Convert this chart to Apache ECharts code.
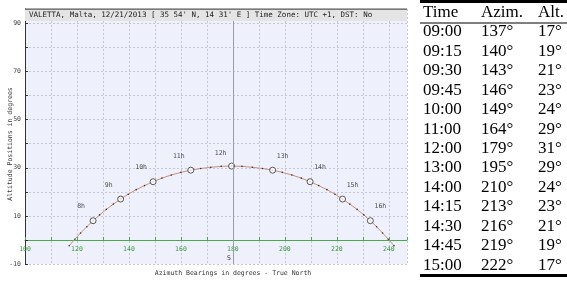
<!DOCTYPE html>
<html>
<head>
<meta charset="utf-8">
<script src="https://cdn.jsdelivr.net/npm/echarts@6/dist/echarts.min.js"></script>
<style>
html,body{margin:0;padding:0;background:#fff;}
#c{width:567px;height:284px;}
</style>
</head>
<body>
<div id="c"></div>
<script>
// Sun path (quarter-hour samples), Valletta 21 Dec 2013
const times = ['07:00','07:15','07:30','07:45','08:00','08:15','08:30','08:45','09:00','09:15','09:30','09:45','10:00','10:15','10:30','10:45','11:00','11:15','11:30','11:45','12:00','12:15','12:30','12:45','13:00','13:15','13:30','13:45','14:00','14:15','14:30','14:45','15:00','15:15','15:30','15:45','16:00','16:15','16:30','16:45','17:00'];
const azimuth = [117.0,119.2,121.4,123.8,126.2,128.7,131.3,134.0,136.8,139.7,142.8,146.0,149.3,152.7,156.3,160.0,163.8,167.6,171.5,175.5,179.5,183.5,187.5,191.4,195.3,199.0,202.7,206.3,209.7,213.0,216.2,219.3,222.2,225.0,227.8,230.4,232.9,235.3,237.6,239.8,242.0];
const altitude = [-2.4,0.3,2.9,5.5,8.0,10.4,12.7,14.9,17.0,19.0,20.9,22.6,24.2,25.7,27.0,28.1,29.0,29.7,30.2,30.6,30.7,30.6,30.2,29.7,29.0,28.1,27.0,25.7,24.2,22.6,20.9,19.0,17.0,14.9,12.7,10.4,8.0,5.5,2.9,0.3,-2.4];
const hourMarks = ['08:00','09:00','10:00','11:00','12:00','13:00','14:00','15:00','16:00'];

const xTicks = [100,120,140,160,180,200,220,240];
const yTicks = [-10,10,30,50,70,90];

// Table
const tableHeader = ['Time','Azim.','Alt.'];
const tableTimes = ['09:00','09:15','09:30','09:45','10:00','11:00','12:00','13:00','14:00','14:15','14:30','14:45','15:00'];
const tableAzim = [137,140,143,146,149,164,179,195,210,213,216,219,222];
const tableAlt = [17,19,21,23,24,29,31,29,24,23,21,19,17];

const titleText = "VALETTA, Malta, 12/21/2013 [ 35 54' N, 14 31' E ] Time Zone: UTC +1, DST: No";

const chart = echarts.init(document.getElementById('c'), null, {renderer:'canvas'});

const mono = 'DejaVu Sans Mono';
const pathData = azimuth.map((a,i)=>[a, altitude[i]]);
const hourData = hourMarks.map(t=>{
  const i = times.indexOf(t);
  const h = parseInt(t,10);
  const off = h < 12 ? [-12,-14] : (h === 12 ? [-11,-13] : [10,-14]);
  return {value:[azimuth[i], altitude[i]], label:{formatter: h + 'h', offset: off}};
});

const colX = [423, 481, 538];
const rowY0 = 32, rowStep = 19.42;
const graphics = [];
// title bar
graphics.push({type:'rect', shape:{x:25,y:9,width:382,height:12}, style:{fill:'#e4e4e4'}, z:10});
graphics.push({type:'rect', shape:{x:25,y:8.5,width:382,height:1.2}, style:{fill:'#555'}, z:11});
graphics.push({type:'text', x:29, y:15.5, style:{text:titleText, fontFamily:mono, fontSize:7.5, fill:'#222', verticalAlign:'middle'}, z:12});
// axis names
graphics.push({type:'text', x:10, y:144, rotation:Math.PI/2, style:{text:'Altitude Positions in degrees', fontFamily:mono, fontSize:6.5, fill:'#333', align:'center', verticalAlign:'middle'}, z:12});
graphics.push({type:'text', x:233, y:273, style:{text:'Azimuth Bearings in degrees - True North', fontFamily:mono, fontSize:6.5, fill:'#333', align:'center', verticalAlign:'middle'}, z:12});
graphics.push({type:'text', x:229, y:258, style:{text:'S', fontFamily:mono, fontSize:6.5, fill:'#333', align:'center', verticalAlign:'middle'}, z:12});
// table rules
graphics.push({type:'rect', shape:{x:420,y:0,width:147,height:3}, style:{fill:'#000'}});
graphics.push({type:'rect', shape:{x:420,y:22.5,width:147,height:1}, style:{fill:'#000'}});
graphics.push({type:'rect', shape:{x:420,y:274,width:147,height:3}, style:{fill:'#000'}});
tableHeader.forEach((h,j)=>{
  graphics.push({type:'text', x:colX[j], y:13, style:{text:h, fontFamily:'Liberation Serif', fontSize:17, fill:'#000', verticalAlign:'middle'}});
});
tableTimes.forEach((t,i)=>{
  const y = rowY0 + i*rowStep;
  graphics.push({type:'text', x:colX[0], y:y, style:{text:t, fontFamily:'Liberation Serif', fontSize:17, fill:'#000', verticalAlign:'middle'}});
  graphics.push({type:'text', x:colX[1], y:y, style:{text:tableAzim[i]+'°', fontFamily:'Liberation Serif', fontSize:17, fill:'#000', verticalAlign:'middle'}});
  graphics.push({type:'text', x:colX[2], y:y, style:{text:tableAlt[i]+'°', fontFamily:'Liberation Serif', fontSize:17, fill:'#000', verticalAlign:'middle'}});
});

chart.setOption({
  animation:false,
  backgroundColor:'#fff',
  grid:{left:25, right:160, top:9, bottom:20, show:true, backgroundColor:'#eef1fb', borderWidth:0},
  xAxis:{
    type:'value', min:100, max:247, interval:10,
    axisLine:{show:true, onZero:true, lineStyle:{color:'#4aa84a', width:1}},
    axisTick:{show:true, inside:true, length:3, lineStyle:{color:'#4aa84a'}},
    axisLabel:{color:'#3d9a3d', fontFamily:mono, fontSize:6.5, margin:-18,
      formatter:v=> xTicks.indexOf(v)>=0 ? String(v) : ''},
    splitLine:{show:true, lineStyle:{color:'#c4c6d0', type:[2,2], width:1}}
  },
  yAxis:{
    type:'value', min:-10, max:96, interval:10,
    axisLine:{show:true, lineStyle:{color:'#333', width:1}},
    axisTick:{show:true, inside:true, length:3, lineStyle:{color:'#333'}},
    axisLabel:{color:'#444', fontFamily:mono, fontSize:6.5, margin:4,
      formatter:v=> yTicks.indexOf(v)>=0 ? String(v) : ''},
    splitLine:{show:true, lineStyle:{color:'#c4c6d0', type:[2,2], width:1}}
  },
  series:[
    {
      type:'line', data:pathData, smooth:false,
      symbol:'circle', symbolSize:1.6, showSymbol:true,
      itemStyle:{color:'#333'},
      lineStyle:{color:'#c8907c', width:1},
      z:3,
      markLine:{silent:true, symbol:'none', label:{show:false},
        lineStyle:{color:'#9c9cae', type:'solid', width:1},
        data:[{xAxis:180}]}
    },
    {
      type:'scatter', data:hourData,
      symbol:'circle', symbolSize:6,
      itemStyle:{color:'#fff', borderColor:'#333', borderWidth:1},
      label:{show:true, position:'inside', fontFamily:mono, fontSize:6.5, color:'#222'},
      z:4
    }
  ],
  graphic:graphics
});
</script>
</body>
</html>
